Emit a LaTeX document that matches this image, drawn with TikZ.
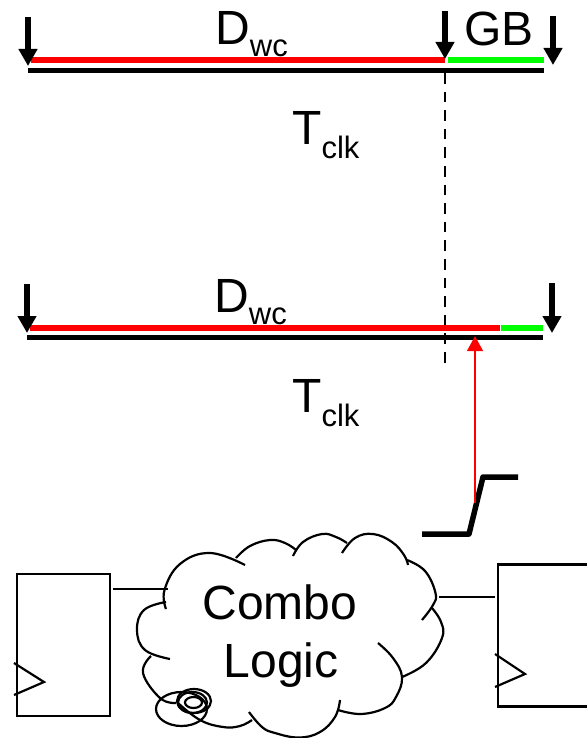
\documentclass[tikz,border=0pt]{standalone}
\usepackage{fontspec}
\setmainfont{Liberation Sans}
\usetikzlibrary{arrows.meta}
\newcommand{\subtxt}[2]{\raisebox{-#1pt}{\fontsize{31}{33}\selectfont #2}}
\tikzset{
  base/.style={line width=5pt,black},
  redbar/.style={line width=6pt,red},
  greenbar/.style={line width=6pt,green},
  clk/.style={line width=5.5pt,-{Triangle[length=17pt,width=18pt]}},
  box/.style={draw,line width=2.2pt},
  wire/.style={line width=2.2pt},
  cl/.style={line width=2.2pt,line cap=butt},
  lab/.style={font=\fontsize{48}{50}\selectfont,inner sep=0pt,anchor=base west}
}
\begin{document}
\begin{tikzpicture}[x=1pt,y=-1pt]
\useasboundingbox (0,0) rectangle (586,738);
% dashed
\coordinate (d1) at (445,73); \coordinate (d2) at (445,364);
\draw[line width=2.8pt,dash pattern=on 10.6pt off 8pt] (d1) -- (d2);
% top timeline
\coordinate (a1) at (28,70.5); \coordinate (a2) at (544,70.5);
\draw[base] (a1) -- (a2);
\coordinate (r1) at (31,60.5); \coordinate (r2) at (445,60.5); \coordinate (g1) at (448,60.5); \coordinate (g2) at (544,60.5);
\draw[redbar] (r1) -- (r2);
\draw[greenbar] (g1) -- (g2);
\coordinate (t1) at (28,17); \coordinate (t1e) at (28,66);
\coordinate (t2) at (445,11); \coordinate (t2e) at (445,59);
\coordinate (t3) at (553,16); \coordinate (t3e) at (553,65);
\draw[clk] (t1) -- (t1e);
\draw[clk] (t2) -- (t2e);
\draw[clk] (t3) -- (t3e);
\node[lab] (dwc1) at (215,45) {D\subtxt{12}{wc}};
\node[lab] (gb) at (464,45.5) {GB};
\node[lab] (tclk1) at (292,145) {T\subtxt{14}{clk}};
% second timeline
\coordinate (b1) at (27,337.5); \coordinate (b2) at (543,337.5);
\draw[base] (b1) -- (b2);
\coordinate (s1) at (30,327.5); \coordinate (s2) at (500,327.5); \coordinate (s3) at (501,327.5); \coordinate (s4) at (543,327.5);
\draw[redbar] (s1) -- (s2);
\draw[greenbar] (s3) -- (s4);
\coordinate (u1) at (27,284); \coordinate (u1e) at (27,333);
\coordinate (u2) at (552,283); \coordinate (u2e) at (552,333);
\draw[clk] (u1) -- (u1e);
\draw[clk] (u2) -- (u2e);
\node[lab] (dwc2) at (214,312) {D\subtxt{12}{wc}};
\node[lab] (tclk2) at (292,412) {T\subtxt{14}{clk}};
% transition
\coordinate (e1) at (422,534); \coordinate (e2) at (469,534); \coordinate (e3) at (483,477); \coordinate (e4) at (518,477);
\draw[line width=5.5pt,line join=round] (e1) -- (e2) -- (e3) -- (e4);
\coordinate (ra) at (475,503); \coordinate (rb) at (475,336);
\draw[red,line width=2.6pt,-{Triangle[length=15pt,width=15.5pt]}] (ra) -- (rb);
% flops
\node[box,minimum width=93pt,minimum height=142pt,inner sep=0pt,anchor=north west] (ff1) at (16,573) {};
\coordinate (c1a) at (14,663); \coordinate (c1b) at (44,682); \coordinate (c1c) at (14,695);
\draw[box] (c1a) -- (c1b) -- (c1c);
\draw[box] (590,564.5) -- (498,564.5) -- (498,706.5) -- (590,706.5);
\coordinate (c2a) at (495,654); \coordinate (c2b) at (525,674); \coordinate (c2c) at (495,687);
\draw[box] (c2a) -- (c2b) -- (c2c);
\coordinate (w1a) at (113,589); \coordinate (w1b) at (168,589);
\draw[wire] (w1a) -- (w1b);
\coordinate (w2a) at (439,597); \coordinate (w2b) at (495,597);
\draw[wire] (w2a) -- (w2b);
% cloud
\draw[cl] plot[smooth,tension=.7] coordinates {(166,609) (164.5,590) (180,564) (210,553) (245,565)};
\draw[cl] plot[smooth,tension=.7] coordinates {(236,558) (250,546) (270,540) (285,543) (296,550)};
\draw[cl] plot[smooth,tension=.7] coordinates {(293,556) (303,542) (322,534) (336,537) (347,543)};
\draw[cl] plot[smooth,tension=.7] coordinates {(342,553) (355,538) (373,534) (392,542) (404,555) (408,565)};
\draw[cl] plot[smooth,tension=.7] coordinates {(407,560) (425,571) (435.5,593) (433,605) (422,620)};
\draw[cl] plot[smooth,tension=.7] coordinates {(432,608) (441,622) (442,638) (426,663) (402,677)};
\draw[cl] plot[smooth,tension=.7] coordinates {(378,643) (393,658) (402,677) (396,697) (385,708) (361,714) (338,710)};
\draw[cl] plot[smooth,tension=.7] coordinates {(340,700) (335,717) (320,732) (299,737.5) (275,733) (262,727) (249,712)};
\draw[cl] plot[smooth,tension=.7] coordinates {(252,720) (240,726) (223,727) (200,720) (178,703)};
\draw[cl] plot[smooth,tension=.7] coordinates {(166,602) (144,610) (137,630) (145,650) (170,659)};
\draw[cl] plot[smooth,tension=.7] coordinates {(151,656) (143,673) (160,698) (176,703)};
\draw[cl] (181.5,709) ellipse (25.5 and 17);
\draw[cl] (194,701) ellipse (17 and 12);
\draw[cl] (192.5,702.5) ellipse (14.5 and 10.5);
\draw[cl] (193.5,702.5) ellipse (8.5 and 5.5);
\node[inner sep=0pt,font=\fontsize{48}{50}\selectfont,anchor=base] (combo) at (280,619) {Combo};
\node[inner sep=0pt,font=\fontsize{48}{50}\selectfont,anchor=base] (logic) at (281,677) {Logic};
\end{tikzpicture}
\end{document}
